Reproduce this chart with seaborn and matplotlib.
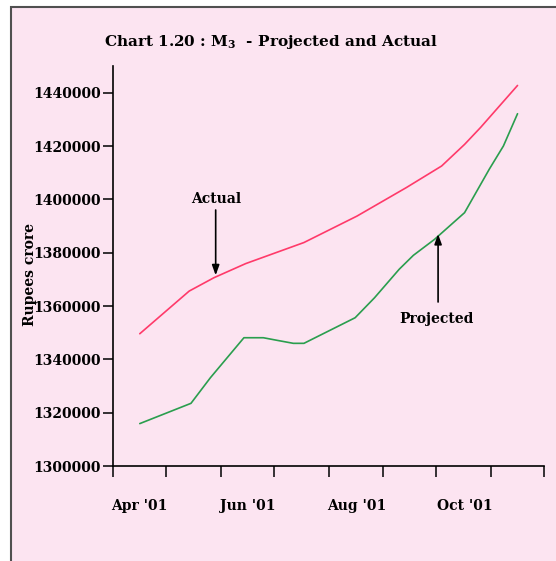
import matplotlib
matplotlib.use('Agg')
import matplotlib.pyplot as plt
from matplotlib.patches import Rectangle
import seaborn as sns
import pandas as pd

# ---- data ----
actual_dates = ['2001-04-16', '2001-05-14', '2001-05-28', '2001-06-15', '2001-07-18',
                '2001-08-17', '2001-09-14', '2001-10-04', '2001-10-17', '2001-10-26',
                '2001-11-16']
actual_values = [1349600, 1365600, 1370600, 1375900, 1383800,
                 1393700, 1404400, 1412500, 1420600, 1426900,
                 1442700]

projected_dates = ['2001-04-16', '2001-05-15', '2001-05-26', '2001-06-14', '2001-06-25',
                   '2001-07-03', '2001-07-12', '2001-07-18', '2001-08-16', '2001-08-27',
                   '2001-09-10', '2001-09-18', '2001-09-30', '2001-10-17', '2001-10-31',
                   '2001-11-08', '2001-11-16']
projected_values = [1315900, 1323500, 1333100, 1348100, 1348100,
                    1347100, 1346000, 1346000, 1355600, 1363100,
                    1373800, 1379000, 1385000, 1395000, 1411300,
                    1420000, 1432100]

y_ticks = [1300000, 1320000, 1340000, 1360000, 1380000, 1400000, 1420000, 1440000]
month_ticks = ['2001-04-01', '2001-05-01', '2001-06-01', '2001-07-01', '2001-08-01',
               '2001-09-01', '2001-10-01', '2001-11-01', '2001-12-01']
x_label_dates = ['2001-04-16', '2001-06-16', '2001-08-17', '2001-10-17']
x_labels = ["Apr '01", "Jun '01", "Aug '01", "Oct '01"]

title = "Chart 1.20 : M$_{\\mathbf{3}}$  - Projected and Actual"
y_title = "Rupees crore"

# ---- styling ----
sns.set_theme(style='ticks')
plt.rcParams['font.family'] = ['DejaVu Serif']
plt.rcParams['font.weight'] = 'bold'
plt.rcParams['mathtext.fontset'] = 'dejavuserif'
plt.rcParams['text.color'] = 'black'
plt.rcParams['xtick.color'] = 'black'
plt.rcParams['ytick.color'] = 'black'
plt.rcParams['axes.labelcolor'] = 'black'

W, H = 556, 561
fig = plt.figure(figsize=(W / 100, H / 100), dpi=100)
fig.patch.set_facecolor('white')
bg = Rectangle((10.5 / W, -1.0), 2.0, 2.0 - 7 / H, transform=fig.transFigure,
               facecolor='#fce4f1', edgecolor='#505050', lw=1.5, zorder=-10)
fig.patches.append(bg)

ax = fig.add_axes([113.3 / W, (H - 466) / H, (544 - 113.3) / W, (466 - 66) / H])
ax.set_facecolor('none')

df = pd.concat([
    pd.DataFrame({'date': pd.to_datetime(actual_dates), 'value': actual_values, 'series': 'Actual'}),
    pd.DataFrame({'date': pd.to_datetime(projected_dates), 'value': projected_values, 'series': 'Projected'}),
], ignore_index=True)

sns.lineplot(data=df, x='date', y='value', hue='series',
             palette={'Actual': '#ff3a6a', 'Projected': '#2a9e4e'},
             linewidth=1.2, legend=False, ax=ax, estimator=None, sort=False)

ax.set_xlim(pd.Timestamp(month_ticks[0]), pd.Timestamp(month_ticks[-1]))
ax.set_ylim(1300000, 1450000)

for s in ['top', 'right']:
    ax.spines[s].set_visible(False)
for s in ['left', 'bottom']:
    ax.spines[s].set_color('black')
    ax.spines[s].set_linewidth(1.2)

ax.set_yticks(y_ticks)
ax.set_yticklabels([str(v) for v in y_ticks])
ax.set_xticks(pd.to_datetime(month_ticks))
ax.set_xticklabels([''] * len(month_ticks))
ax.set_xticks(pd.to_datetime(x_label_dates), minor=True)
ax.set_xticklabels(x_labels, minor=True)

ax.tick_params(axis='y', which='major', direction='out', length=7, width=1.1,
               color='black', labelsize=10, pad=2, left=True)
ax.tick_params(axis='x', which='major', direction='out', length=8, width=1.1,
               color='black', bottom=True)
ax.tick_params(axis='x', which='minor', length=0, pad=24, labelsize=10, bottom=True)
for lab in ax.get_yticklabels() + ax.get_xticklabels(minor=True):
    lab.set_fontweight('bold')

ax.set_xlabel('')
ax.set_ylabel('')

fig.text(30 / W, 1 - 275 / H, y_title, rotation=90, ha='center', va='center',
         fontsize=10, fontweight='bold')
fig.text(271 / W, 1 - 42 / H, title, ha='center', va='center',
         fontsize=11, fontweight='bold')

# annotations
ax.text(pd.Timestamp('2001-05-29'), 1400000, 'Actual', ha='center', va='center',
        fontsize=10, fontweight='bold')
ax.annotate('', xy=(pd.Timestamp('2001-05-29'), 1371500),
            xytext=(pd.Timestamp('2001-05-29'), 1396000),
            arrowprops=dict(arrowstyle='-|>,head_length=0.5,head_width=0.18',
                            lw=1.2, color='black', shrinkA=0, shrinkB=0))
ax.text(pd.Timestamp('2001-10-01'), 1355000, 'Projected', ha='center', va='center',
        fontsize=10, fontweight='bold')
ax.annotate('', xy=(pd.Timestamp('2001-10-02'), 1387000),
            xytext=(pd.Timestamp('2001-10-02'), 1361500),
            arrowprops=dict(arrowstyle='-|>,head_length=0.5,head_width=0.18',
                            lw=1.2, color='black', shrinkA=0, shrinkB=0))

fig.savefig('out.png', dpi=100, facecolor=fig.get_facecolor())
